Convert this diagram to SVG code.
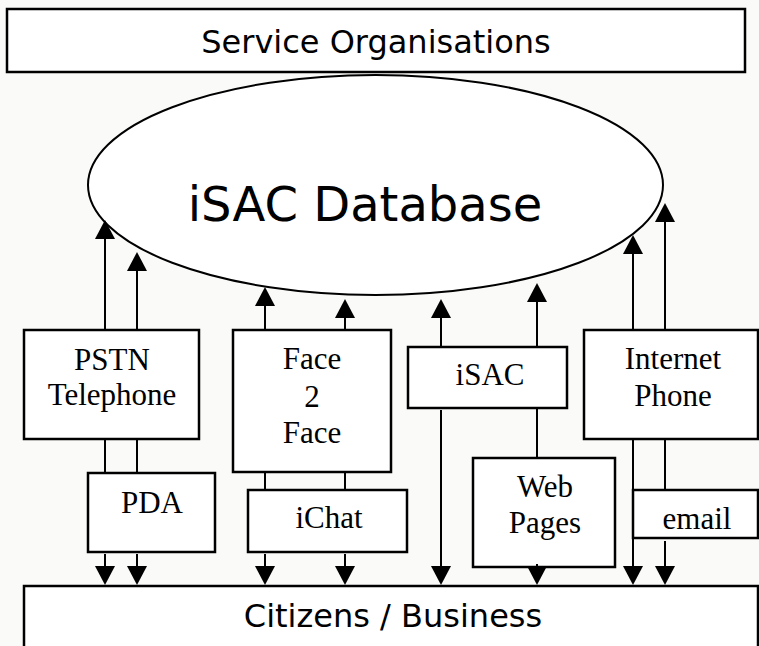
<svg xmlns="http://www.w3.org/2000/svg" width="759" height="646" viewBox="0 0 759 646">
<defs>
<style>
.box{fill:#fff;stroke:#000;stroke-width:2.5}
.sans{font-family:"DejaVu Sans",Verdana,sans-serif;fill:#000;text-anchor:middle}
.serif{font-family:"Liberation Serif","Times New Roman",serif;font-size:31px;fill:#000;text-anchor:middle}
.ln{stroke:#000;stroke-width:2;fill:none}
.ar{stroke:#000;stroke-width:2;fill:none;marker-end:url(#ah)}
</style>
<marker id="ah" viewBox="0 -10 19 20" refX="0" refY="0" markerWidth="19" markerHeight="20" markerUnits="userSpaceOnUse" orient="auto">
<path d="M0,-10 L19,0 L0,10 z" fill="#000"/>
</marker>
</defs>
<rect width="759" height="646" fill="#fafaf8"/>
<g id="service-organisations">
<rect class="box" x="7" y="9" width="738" height="63"/>
<text class="sans" x="376" y="53" font-size="32">Service Organisations</text>
</g>
<g id="isac-database">
<ellipse cx="375.5" cy="185" rx="287.5" ry="110" fill="#fff" stroke="#000" stroke-width="2"/>
<text class="sans" x="365" y="221" font-size="48">iSAC Database</text>
</g>
<g id="pstn">
<rect class="box" x="24" y="330" width="175" height="109"/>
<text class="serif" x="112" y="370">PSTN</text>
<text class="serif" x="112" y="405">Telephone</text>
</g>
<g id="pda">
<rect class="box" x="88" y="473" width="127" height="79"/>
<text class="serif" x="152" y="513">PDA</text>
</g>
<g id="face2face">
<rect class="box" x="233" y="330" width="158" height="142"/>
<text class="serif" x="312" y="369">Face</text>
<text class="serif" x="312" y="407">2</text>
<text class="serif" x="312" y="443">Face</text>
</g>
<g id="ichat">
<rect class="box" x="248" y="490" width="159" height="62"/>
<text class="serif" x="329" y="528">iChat</text>
</g>
<g id="isac">
<rect class="box" x="408" y="347" width="159" height="61"/>
<text class="serif" x="490" y="385">iSAC</text>
</g>
<g id="web-pages">
<rect class="box" x="473" y="458" width="142" height="109"/>
<text class="serif" x="545" y="497">Web</text>
<text class="serif" x="545" y="533">Pages</text>
</g>
<g id="internet-phone">
<rect class="box" x="584" y="330" width="174" height="109"/>
<text class="serif" x="673" y="369">Internet</text>
<text class="serif" x="673" y="406">Phone</text>
</g>
<g id="email">
<rect class="box" x="633" y="490" width="125" height="48"/>
<text class="serif" x="697" y="529">email</text>
</g>
<g id="citizens-business">
<rect class="box" x="24" y="586" width="734" height="80"/>
<text class="sans" x="393" y="627" font-size="32">Citizens / Business</text>
</g>
<g id="connectors">
<line class="ar" x1="105" y1="330" x2="105" y2="239"/>
<line class="ar" x1="137" y1="330" x2="137" y2="271"/>
<line class="ar" x1="265" y1="330" x2="265" y2="306"/>
<line class="ar" x1="345" y1="330" x2="345" y2="318"/>
<line class="ar" x1="441" y1="347" x2="441" y2="318"/>
<line class="ar" x1="537" y1="347" x2="537" y2="302"/>
<line class="ar" x1="633" y1="330" x2="633" y2="254"/>
<line class="ar" x1="665" y1="330" x2="665" y2="222"/>
<line class="ln" x1="105" y1="439" x2="105" y2="473"/>
<line class="ln" x1="137" y1="439" x2="137" y2="473"/>
<line class="ln" x1="265" y1="472" x2="265" y2="490"/>
<line class="ln" x1="345" y1="472" x2="345" y2="490"/>
<line class="ln" x1="537" y1="408" x2="537" y2="458"/>
<line class="ln" x1="665" y1="439" x2="665" y2="490"/>
<line class="ar" x1="105" y1="554" x2="105" y2="566"/>
<line class="ar" x1="137" y1="554" x2="137" y2="566"/>
<line class="ar" x1="265" y1="554" x2="265" y2="566"/>
<line class="ar" x1="345" y1="554" x2="345" y2="566"/>
<line class="ar" x1="441" y1="410" x2="441" y2="566"/>
<line class="ar" x1="537" y1="564" x2="537" y2="566"/>
<line class="ar" x1="633" y1="439" x2="633" y2="566"/>
<line class="ar" x1="665" y1="541" x2="665" y2="566"/>
</g>
</svg>
